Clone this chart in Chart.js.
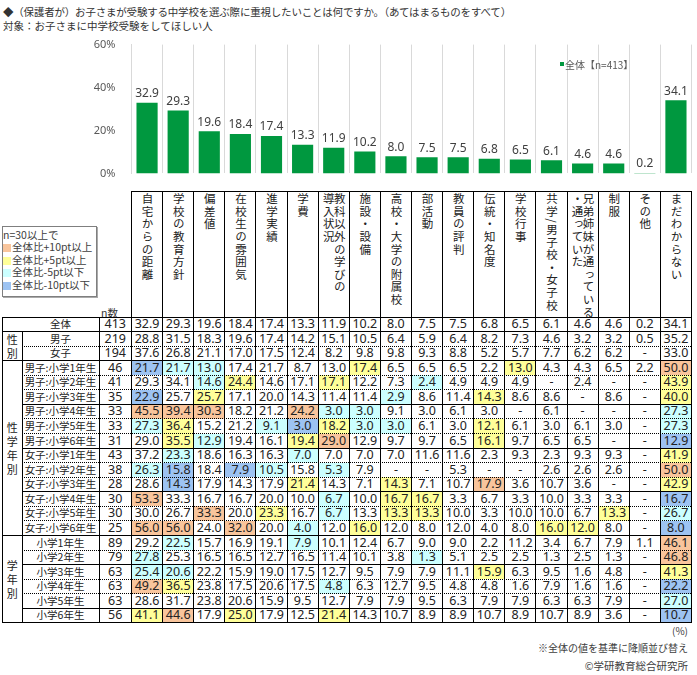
<!DOCTYPE html>
<html><head><meta charset="utf-8">
<script src="https://cdn.jsdelivr.net/npm/chart.js@4"></script>
<style>
body{margin:0;width:697px;height:675px;background:#fff;font-family:"Noto Sans CJK JP","Noto Sans",sans-serif;color:#262626;overflow:hidden;position:relative}
.abs{position:absolute;box-sizing:border-box}
#tbl .abs{box-sizing:content-box}
.num{text-align:center;font-size:12.5px;font-family:"Noto Sans","Noto Sans CJK JP",sans-serif;color:#222;white-space:nowrap}
.lbl{text-align:center;font-size:10.5px;color:#222;white-space:nowrap}
.vh{display:flex;justify-content:center;align-items:flex-start;padding-top:2px;box-sizing:border-box}
.vh span{writing-mode:vertical-rl;text-orientation:mixed;font-family:"Noto Sans CJK JP",sans-serif;font-size:11.5px;line-height:11px;letter-spacing:0;color:#222;white-space:nowrap}
.lg{position:absolute;left:3px;font-size:10.5px;color:#404040;white-space:nowrap;line-height:12px}
.sw{display:inline-block;width:8px;height:8px;margin-right:1px;vertical-align:-1px}
</style></head><body>
<div class="abs" style="left:3px;top:4px;font-size:10.5px;letter-spacing:-0.2px;color:#333;white-space:nowrap">◆（保護者が）お子さまが受験する中学校を選ぶ際に重視したいことは何ですか。（あてはまるものをすべて）</div>
<div class="abs" style="left:3px;top:18px;font-size:10.5px;color:#333;white-space:nowrap">対象：お子さまに中学校受験をしてほしい人</div>
<div class="abs" style="left:90px;top:30px;width:607px;height:158px"><canvas id="c"></canvas></div>
<div class="abs" style="left:560px;top:62px;width:4px;height:4px;background:#00983F"></div>
<div class="abs" style="left:565px;top:57px;font-size:10px;color:#595959;white-space:nowrap">全体【n=413】</div>
<div class="abs" style="left:2px;top:226px;width:95px;height:71px;border:1px solid #7f7f7f;box-shadow:1px 1px 0 #aaa"></div>
<div class="lg" style="top:229px">n=30以上で</div>
<div class="lg" style="top:241px"><span class="sw" style="background:#F9C59C"></span>全体比+10pt以上</div>
<div class="lg" style="top:253.5px"><span class="sw" style="background:#FFFF99"></span>全体比+5pt以上</div>
<div class="lg" style="top:266px"><span class="sw" style="background:#CCFFFF"></span>全体比-5pt以下</div>
<div class="lg" style="top:278.5px"><span class="sw" style="background:#9DC3F2"></span>全体比-10pt以下</div>
<div class="abs" style="left:101px;top:305px;font-size:10.5px;color:#333">n数</div>
<div id="tbl"></div>
<div class="abs" style="right:9px;top:623px;font-size:10px;color:#404040">(%)</div>
<div class="abs" style="right:9px;top:640px;font-size:10px;color:#404040;white-space:nowrap">※全体の値を基準に降順並び替え</div>
<div class="abs" style="right:9px;top:658px;font-size:10.5px;color:#404040;white-space:nowrap">©学研教育総合研究所</div>
<script>
const categories = ['自宅からの距離','学校の教育方針','偏差値','在校生の雰囲気','進学実績','学費','教科以外の学びの\n導入状況','施設・設備','高校・大学の附属校','部活動','教員の評判','伝統・知名度','学校行事','共学/男子校・女子校','兄弟姉妹が通っている\n・通っていた','制服','その他','まだわからない'];
const overallN = 413;
const overall = [32.9,29.3,19.6,18.4,17.4,13.3,11.9,10.2,8.0,7.5,7.5,6.8,6.5,6.1,4.6,4.6,0.2,34.1];
const yTicks = [0,20,40,60];

const genderLabels = ['男子','女子'];
const genderN = [219,194];
const genderValues = [
 [28.8,31.5,18.3,19.6,17.4,14.2,15.1,10.5,6.4,5.9,6.4,8.2,7.3,4.6,3.2,3.2,0.5,35.2],
 [37.6,26.8,21.1,17.0,17.5,12.4,8.2,9.8,9.8,9.3,8.8,5.2,5.7,7.7,6.2,6.2,null,33.0]
];
const genderGradeLabels = ['男子:小学1年生','男子:小学2年生','男子:小学3年生','男子:小学4年生','男子:小学5年生','男子:小学6年生','女子:小学1年生','女子:小学2年生','女子:小学3年生','女子:小学4年生','女子:小学5年生','女子:小学6年生'];
const genderGradeN = [46,41,35,33,33,31,43,38,28,30,30,25];
const genderGradeValues = [
 [21.7,21.7,13.0,17.4,21.7,8.7,13.0,17.4,6.5,6.5,6.5,2.2,13.0,4.3,4.3,6.5,2.2,50.0],
 [29.3,34.1,14.6,24.4,14.6,17.1,17.1,12.2,7.3,2.4,4.9,4.9,4.9,null,2.4,null,null,43.9],
 [22.9,25.7,25.7,17.1,20.0,14.3,11.4,11.4,2.9,8.6,11.4,14.3,8.6,8.6,null,8.6,null,40.0],
 [45.5,39.4,30.3,18.2,21.2,24.2,3.0,3.0,9.1,3.0,6.1,3.0,null,6.1,null,null,null,27.3],
 [27.3,36.4,15.2,21.2,9.1,3.0,18.2,3.0,3.0,6.1,3.0,12.1,6.1,3.0,6.1,3.0,null,27.3],
 [29.0,35.5,12.9,19.4,16.1,19.4,29.0,12.9,9.7,9.7,6.5,16.1,9.7,6.5,6.5,null,null,12.9],
 [37.2,23.3,18.6,16.3,16.3,7.0,7.0,7.0,7.0,11.6,11.6,2.3,9.3,2.3,9.3,9.3,null,41.9],
 [26.3,15.8,18.4,7.9,10.5,15.8,5.3,7.9,null,null,5.3,null,null,2.6,2.6,2.6,null,50.0],
 [28.6,14.3,17.9,14.3,17.9,21.4,14.3,7.1,14.3,7.1,10.7,17.9,3.6,10.7,3.6,null,null,42.9],
 [53.3,33.3,16.7,16.7,20.0,10.0,6.7,10.0,16.7,16.7,3.3,6.7,3.3,10.0,3.3,3.3,null,16.7],
 [30.0,26.7,33.3,20.0,23.3,16.7,6.7,13.3,13.3,13.3,10.0,3.3,10.0,10.0,6.7,13.3,null,26.7],
 [56.0,56.0,24.0,32.0,20.0,4.0,12.0,16.0,12.0,8.0,12.0,4.0,8.0,16.0,12.0,8.0,null,8.0]
];
const gradeLabels = ['小学1年生','小学2年生','小学3年生','小学4年生','小学5年生','小学6年生'];
const gradeN = [89,79,63,63,63,56];
const gradeValues = [
 [29.2,22.5,15.7,16.9,19.1,7.9,10.1,12.4,6.7,9.0,9.0,2.2,11.2,3.4,6.7,7.9,1.1,46.1],
 [27.8,25.3,16.5,16.5,12.7,16.5,11.4,10.1,3.8,1.3,5.1,2.5,2.5,1.3,2.5,1.3,null,46.8],
 [25.4,20.6,22.2,15.9,19.0,17.5,12.7,9.5,7.9,7.9,11.1,15.9,6.3,9.5,1.6,4.8,null,41.3],
 [49.2,36.5,23.8,17.5,20.6,17.5,4.8,6.3,12.7,9.5,4.8,4.8,1.6,7.9,1.6,1.6,null,22.2],
 [28.6,31.7,23.8,20.6,15.9,9.5,12.7,7.9,7.9,9.5,6.3,7.9,7.9,6.3,6.3,7.9,null,27.0],
 [41.1,44.6,17.9,25.0,17.9,12.5,21.4,14.3,10.7,8.9,8.9,10.7,8.9,10.7,8.9,3.6,null,10.7]
];

// ---------- chart ----------
const valueLabels = {
  id:'valueLabels',
  afterDatasetsDraw(chart){
    const ctx = chart.ctx, meta = chart.getDatasetMeta(0);
    ctx.save();
    ctx.font = '12px "Noto Sans", sans-serif';
    ctx.fillStyle = '#404040';
    ctx.textAlign = 'center';
    ctx.textBaseline = 'bottom';
    meta.data.forEach((bar,i)=>{
      ctx.fillText(chart.data.datasets[0].data[i].toFixed(1), bar.x, bar.y - 3);
    });
    ctx.restore();
  }
};
new Chart(document.getElementById('c'), {
  type:'bar',
  data:{ labels: categories, datasets:[{ label:'全体【n=' + overallN + '】', data: overall, backgroundColor:'#00983F', barPercentage:0.68, categoryPercentage:1 }]},
  options:{
    responsive:true, maintainAspectRatio:false, animation:false,
    layout:{ padding:{ top:12.7, right:5.5, bottom:0, left:0 } },
    plugins:{ legend:{display:false}, tooltip:{enabled:false} },
    scales:{
      x:{ grid:{ display:true, offset:true, color:'#d9d9d9', drawTicks:false }, border:{display:false}, ticks:{display:false},
          afterFit:s=>{ s.height = 0; } },
      y:{ min:0, max:60, afterBuildTicks:s=>{ s.ticks = yTicks.map(v=>({value:v})); },
          grid:{ display:false }, border:{ display:true, color:'#d9d9d9' },
          ticks:{ callback:v=>v+'%', color:'#595959', font:{ size:11, family:'"Noto Sans", sans-serif' }, padding:8 },
          afterFit:s=>{ s.width = 41.5; } }
    }
  },
  plugins:[valueLabels]
});

// ---------- table ----------
const X0=2.5, XA=22, XB=99, XN=131.5, CW=31.11, XEND=XN+18*CW;
const HT=191, RT=317, RH=14.57;
const root = document.getElementById('tbl');
function box(l,t,w,h,css,html){
  const d=document.createElement('div'); d.className='abs';
  d.style.cssText=`left:${l}px;top:${t}px;width:${w}px;height:${h}px;`+(css||'');
  if(html!=null) d.innerHTML=html; root.appendChild(d); return d;
}
function hline(x1,x2,y,style){ box(x1,y-0.5,x2-x1,0,`border-top:1px ${style} #000;`); }
function vline(x,y1,y2){ box(x-0.5,y1,0,y2-y1,'border-left:1px solid #000;'); }
function hl(v,base){
  if(v==null) return null;
  const d=Math.round((v-base)*10)/10;
  if(d>=10) return '#F9C59C';
  if(d>=5) return '#FFFF99';
  if(d<=-10) return '#9DC3F2';
  if(d<=-5) return '#CCFFFF';
  return null;
}
// header
const headSpans = [];
categories.forEach((c,i)=>{
  const d = box(XN+i*CW, HT, CW, RT-HT, '', '<span>'+c.replace('\n','<br>')+'</span>');
  d.classList.add('vh'); d.style.boxSizing='border-box';
  headSpans.push(d.firstChild);
});
// spread vertical header text so the longest column line (10 chars) spans ~119px
(function(){
  let maxH = 0, maxChars = 0;
  categories.forEach((c,i)=>{
    const len = Math.max(...c.split('\n').map(s=>s.length));
    const h = headSpans[i].getBoundingClientRect().height;
    if(len>maxChars){ maxChars=len; maxH=h; }
  });
  const target = 11.9*maxChars;
  if(maxH>0){
    const sp = Math.max(0,(target-maxH)/maxChars);
    headSpans.forEach(s=>{ s.style.letterSpacing=sp+'px'; });
  }
})();
// rows
const rows = [{label:'全体', n:overallN, vals:overall, top:true}];
genderLabels.forEach((l,i)=>rows.push({label:l,n:genderN[i],vals:genderValues[i]}));
genderGradeLabels.forEach((l,i)=>rows.push({label:l,n:genderGradeN[i],vals:genderGradeValues[i]}));
gradeLabels.forEach((l,i)=>rows.push({label:l,n:gradeN[i],vals:gradeValues[i]}));
rows.forEach((r,ri)=>{
  const y = RT + ri*RH;
  r.vals.forEach((v,ci)=>{
    const bg = r.top ? null : hl(v, overall[ci]);
    box(XN+ci*CW, y, CW, RH, (bg?`background:${bg};`:'')+`line-height:${RH}px;`, v==null?'-':v.toFixed(1)).classList.add('num');
  });
  box(XB, y, XN-XB, RH, `line-height:${RH}px;`, String(r.n)).classList.add('num');
  box(XA, y, XB-XA, RH, `line-height:${RH}px;`, r.label).classList.add('lbl');
});
// group labels
function group(txt, r1, r2){
  box(X0, RT+r1*RH, XA-X0, (r2-r1)*RH, 'display:flex;align-items:center;justify-content:center;text-align:center;font-size:11px;line-height:14px;color:#222;', txt.split('').join('<br>'));
}
group('性別',1,3); group('性学年別',3,15); group('学年別',15,21);
// lines
const BOT = RT + rows.length*RH;
hline(XN, XEND, HT, 'solid');
for(let i=0;i<=18;i++) vline(XN+i*CW, HT, BOT);
hline(X0, XEND, RT, 'solid');
hline(X0, XEND, BOT, 'solid');
[1,3,15].forEach(k=>hline(X0, XEND, RT+k*RH, 'solid'));
const solidInner = [6,9,12,17,20];
for(let k=2;k<rows.length;k++){
  if([3,15].includes(k)) continue;
  hline(XA, XEND, RT+k*RH, solidInner.includes(k)?'solid':'dotted');
}
vline(X0, RT, BOT); vline(XA, RT+RH, BOT); vline(XB, RT, BOT);
</script>
</body></html>
